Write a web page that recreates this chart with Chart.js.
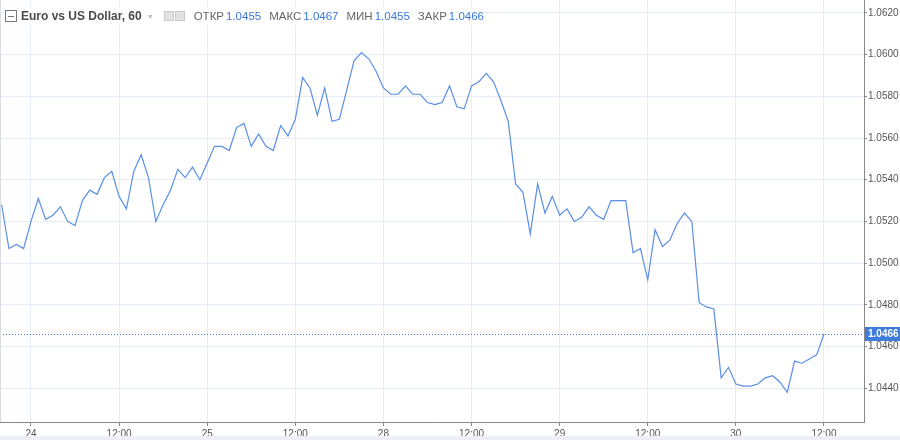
<!DOCTYPE html>
<html>
<head>
<meta charset="utf-8">
<script src="https://cdn.jsdelivr.net/npm/chart.js@4/dist/chart.umd.min.js"></script>
<style>
  html, body { margin: 0; padding: 0; background: #fff; }
  #wrap { position: relative; width: 900px; height: 440px; overflow: hidden; }
  #chart { position: absolute; left: 0; top: 0; }
  #edge { position: absolute; left: 0; top: 0; width: 1px; height: 422px; background: #d8dde3; }
  #strip { position: absolute; left: 0; top: 436px; width: 900px; height: 4px; background: #eceff3; }
  #legend {
    position: absolute; left: 5px; top: 7px; height: 18px;
    font-family: "Liberation Sans", sans-serif; white-space: nowrap;
    display: flex; align-items: center; background: rgba(255,255,255,0.85);
  }
  .collapse { width: 10px; height: 10px; border: 1px solid #777; position: relative; margin-right: 4px; }
  .collapse::after { content: ""; position: absolute; left: 2px; right: 2px; top: 4.5px; height: 1px; background: #777; }
  .title { font-size: 12px; font-weight: bold; color: #4b4b4b; }
  .caret { color: #bbb; font-size: 7px; margin: 0 10px 0 5px; }
  .ico { width: 8px; height: 8px; border: 1px solid #c8c8c8; background: #e2e2e2; margin-right: 1px; }
  .k { font-size: 11.5px; color: #666; margin-left: 8px; }
  .k.first { margin-left: 8px; }
  .v { font-size: 11.5px; color: #3b78d8; margin-left: 2px; }
</style>
</head>
<body>
<div id="wrap">
  <canvas id="chart" width="900" height="440"></canvas>
  <div id="edge"></div>
  <div id="strip"></div>
  <div id="legend">
    <span class="collapse"></span>
    <span class="title">Euro vs US Dollar, 60</span>
    <span class="caret">▼</span>
    <span class="ico"></span><span class="ico"></span>
    <span class="k first">ОТКР</span><span class="v">1.0455</span>
    <span class="k">МАКС</span><span class="v">1.0467</span>
    <span class="k">МИН</span><span class="v">1.0455</span>
    <span class="k">ЗАКР</span><span class="v">1.0466</span>
  </div>
</div>
<script>
// hourly closes, EUR/USD, from 23 Nov 20:00 to 30 Nov 12:00
const closes = [
  1.0528, 1.0507, 1.0509, 1.0507,
  1.0520, 1.0531, 1.0521, 1.0523, 1.0527, 1.0520, 1.0518, 1.0530, 1.0535, 1.0533, 1.0541, 1.0544,
  1.0532, 1.0526, 1.0544, 1.0552, 1.0541, 1.0520, 1.0528, 1.0535, 1.0545, 1.0541, 1.0546, 1.0540,
  1.0548, 1.0556, 1.0556, 1.0554, 1.0565, 1.0567, 1.0556, 1.0562, 1.0556, 1.0554, 1.0566, 1.0561,
  1.0569, 1.0589, 1.0584, 1.0571, 1.0584, 1.0568, 1.0569, 1.0583, 1.0597, 1.0601, 1.0598, 1.0592,
  1.0584, 1.0581, 1.0581, 1.0585, 1.0581, 1.0581, 1.0577, 1.0576, 1.0577, 1.0585, 1.0575, 1.0574,
  1.0585, 1.0587, 1.0591, 1.0587, 1.0578, 1.0568, 1.0538, 1.0534, 1.0514, 1.0538, 1.0524, 1.0532,
  1.0523, 1.0526, 1.0520, 1.0522, 1.0527, 1.0523, 1.0521, 1.0530, 1.0530, 1.0530, 1.0505, 1.0507,
  1.0492, 1.0516, 1.0508, 1.0511, 1.0519, 1.0524, 1.0520, 1.0481, 1.0479, 1.0478, 1.0445, 1.0450,
  1.0442, 1.0441, 1.0441, 1.0442, 1.0445, 1.0446, 1.0443, 1.0438, 1.0453, 1.0452, 1.0454, 1.0456,
  1.0466
];

// bar index of each time label on the bottom axis
const timeTickIndex = [4, 16, 28, 40, 52, 64, 76, 88, 100, 112];
const timeTickLabels = ["24", "12:00", "25", "12:00", "28", "12:00", "29", "12:00", "30", "12:00"];
const priceTicks = [1.0440, 1.0460, 1.0480, 1.0500, 1.0520, 1.0540, 1.0560, 1.0580, 1.0600, 1.0620];

const lastClose = closes[closes.length - 1];
const axisFont = "'Liberation Sans', sans-serif";

const noPad = s => {
  s.paddingLeft = 0; s.paddingRight = 0; s.paddingTop = 0; s.paddingBottom = 0;
};

const lastPricePlugin = {
  id: "lastPrice",
  afterDatasetsDraw(chart) {
    const { ctx, chartArea, scales } = chart;
    const y = Math.round(scales.y.getPixelForValue(lastClose)) + 0.5;
    ctx.save();
    ctx.strokeStyle = "#3f74c9";
    ctx.lineWidth = 1;
    ctx.setLineDash([1, 2]);
    ctx.beginPath();
    ctx.moveTo(chartArea.left, y);
    ctx.lineTo(chartArea.right, y);
    ctx.stroke();
    ctx.restore();
  },
  afterDraw(chart) {
    const { ctx, chartArea, scales } = chart;
    const y = Math.round(scales.y.getPixelForValue(lastClose));
    ctx.save();
    ctx.fillStyle = "#3d7bdc";
    ctx.fillRect(chartArea.right + 1, y - 7, 40, 14);
    ctx.fillStyle = "#fff";
    ctx.font = "bold 10px " + axisFont;
    ctx.textBaseline = "middle";
    ctx.fillText(lastClose.toFixed(4), chartArea.right + 4, y + 0.5);
    ctx.restore();
  }
};

const ctx = document.getElementById("chart").getContext("2d");

new Chart(ctx, {
  type: "line",
  data: {
    datasets: [
      {
        data: closes.map((v, i) => ({ x: i, y: v })),
        borderColor: "#5a8fe6",
        borderWidth: 1.2,
        pointRadius: 0,
        tension: 0,
        fill: false
      }
    ]
  },
  options: {
    responsive: false,
    animation: false,
    layout: { padding: 0 },
    plugins: {
      legend: { display: false },
      tooltip: { enabled: false }
    },
    scales: {
      x: {
        type: "linear",
        min: -0.22,
        max: 117.45,
        afterBuildTicks: s => { s.ticks = timeTickIndex.map(v => ({ value: v })); },
        afterFit: s => { s.height = 18; noPad(s); },
        ticks: {
          autoSkip: false,
          maxRotation: 0,
          padding: 2,
          color: "#555",
          font: { family: axisFont, size: 10 },
          callback: v => timeTickLabels[timeTickIndex.indexOf(v)]
        },
        grid: { color: "#e7edf4", tickLength: 4, tickColor: "#888" },
        border: { color: "#888" }
      },
      y: {
        position: "right",
        min: 1.04238,
        max: 1.06262,
        afterBuildTicks: s => { s.ticks = priceTicks.map(v => ({ value: v })); },
        afterFit: s => { s.width = 36; noPad(s); },
        ticks: {
          padding: 1,
          color: "#555",
          font: { family: axisFont, size: 10 },
          callback: v => v.toFixed(4)
        },
        grid: { color: "#e7edf4", tickLength: 3, tickColor: "#888" },
        border: { color: "#888" }
      }
    }
  },
  plugins: [lastPricePlugin]
});
</script>
</body>
</html>
